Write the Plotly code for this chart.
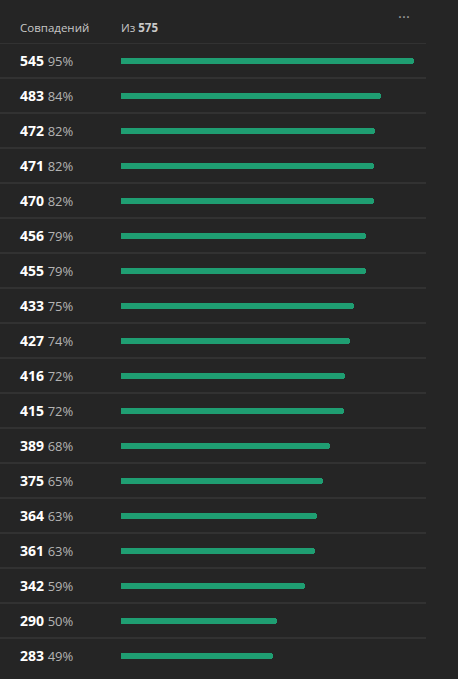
import plotly.graph_objects as go

total = 575
matches = [545, 483, 472, 471, 470, 456, 455, 433, 427, 416, 415, 389, 375, 364, 361, 342, 290, 283]
percents = ["95%", "84%", "82%", "82%", "82%", "79%", "79%", "75%", "74%", "72%", "72%", "68%", "65%", "63%", "63%", "59%", "50%", "49%"]
header_left = "Совпадений"
header_right = "Из"

BG = "#252525"
BAR = "#1f9e72"
W, H = 458, 679
L, R, T, B = 121, 28, 43, 6
pw = W - L - R

rows = list(range(len(matches)))

fig = go.Figure()
fig.add_trace(go.Bar(
    x=matches, y=rows, orientation="h", width=6 / 35,
    marker=dict(color=BAR, line=dict(width=0), cornerradius=3),
    hoverinfo="skip", showlegend=False,
))


def px_to_paper(px):
    return (px - L) / pw


shapes = []
for yv in [-0.5] + [i + 0.5 for i in rows[:-1]]:
    shapes.append(dict(type="line", xref="paper", yref="y",
                       x0=px_to_paper(0), x1=px_to_paper(426), y0=yv, y1=yv,
                       line=dict(color="#414141", width=1)))

annotations = []
for i, (m, p) in enumerate(zip(matches, percents)):
    annotations.append(dict(
        xref="paper", yref="y", x=px_to_paper(18), y=i, xanchor="left", yanchor="middle",
        showarrow=False,
        text=f"<b>{m}</b> <span style='color:#b4b4b4;font-size:13px'>{p}</span>",
        font=dict(family="Open Sans, sans-serif", size=14, color="#ffffff"),
    ))

annotations.append(dict(
    xref="paper", yref="paper", x=px_to_paper(18), y=1 + 16 / 630, xanchor="left", yanchor="middle",
    showarrow=False, text=header_left,
    font=dict(family="Open Sans, sans-serif", size=11.5, color="#c8c8c8"),
))
annotations.append(dict(
    xref="paper", yref="paper", x=px_to_paper(119), y=1 + 16 / 630, xanchor="left", yanchor="middle",
    showarrow=False, text=f"{header_right} <b>{total}</b>",
    font=dict(family="Open Sans, sans-serif", size=11.5, color="#c8c8c8"),
))
annotations.append(dict(
    xref="paper", yref="paper", x=px_to_paper(404), y=1 + 31 / 630, xanchor="center", yanchor="middle",
    showarrow=False, text="...",
    font=dict(family="Open Sans, sans-serif", size=15, color="#a0a0a0"),
))

fig.update_layout(
    width=W, height=H,
    margin=dict(l=L, r=R, t=T, b=B, pad=0),
    paper_bgcolor=BG, plot_bgcolor=BG,
    xaxis=dict(range=[0, total], visible=False, fixedrange=True),
    yaxis=dict(range=[len(matches) - 0.5, -0.5], visible=False, fixedrange=True),
    shapes=shapes, annotations=annotations,
    bargap=0,
)

fig.write_html("out.html", config={"displayModeBar": False})
